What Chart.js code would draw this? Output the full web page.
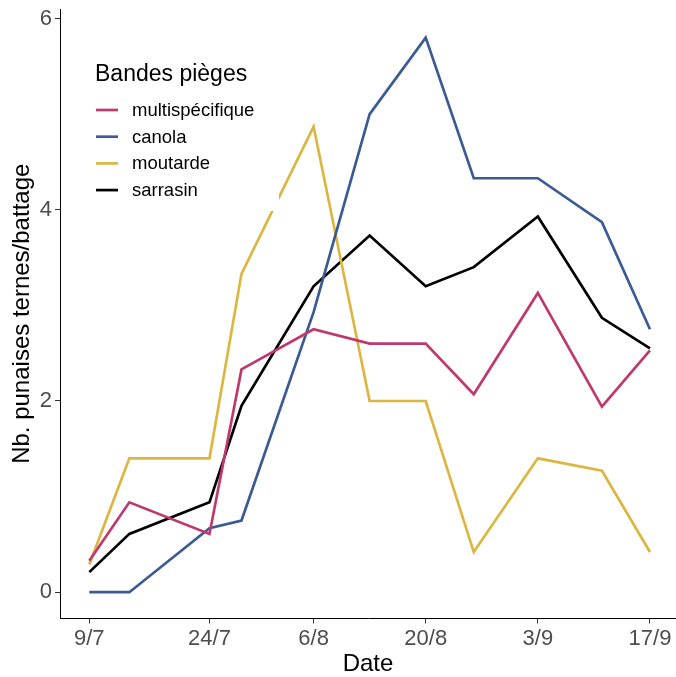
<!DOCTYPE html>
<html>
<head>
<meta charset="utf-8">
<script src="https://cdn.jsdelivr.net/npm/chart.js@4"></script>
<style>
  body { margin: 0; background: #fff; }
  #wrap { width: 676px; height: 677px; position: relative; }
</style>
</head>
<body>
<div id="wrap"><canvas id="chart"></canvas></div>
<script>
// Sampling dates (day/month) and mean counts per trap band
const dates = ['9/7', '14/7', '24/7', '28/7', '6/8', '13/8', '20/8', '26/8', '3/9', '11/9', '17/9'];
const multispecifique = [0.33, 0.94, 0.61, 2.33, 2.75, 2.6, 2.6, 2.07, 3.13, 1.94, 2.53];
const canola = [0, 0, 0.67, 0.75, 2.93, 5.0, 5.8, 4.33, 4.33, 3.87, 2.75];
const moutarde = [0.29, 1.4, 1.4, 3.33, 4.87, 2.0, 2.0, 0.42, 1.4, 1.27, 0.42];
const sarrasin = [0.21, 0.61, 0.94, 1.95, 3.2, 3.73, 3.2, 3.4, 3.93, 2.87, 2.55];
const xTickLabels = ['9/7', '24/7', '6/8', '20/8', '3/9', '17/9'];
const yTicks = [0, 2, 4, 6];

const seriesNames = ['multispécifique', 'canola', 'moutarde', 'sarrasin'];
const seriesColors = ['#BE3A6E', '#3B5B92', '#DBB741', '#000000'];
const seriesData = [multispecifique, canola, moutarde, sarrasin];

// days since first sample
function dayOf(s) {
    const [d, m] = s.split('/').map(Number);
    return Date.UTC(2020, m - 1, d) / 86400000;
}
const day0 = dayOf(dates[0]);
const xDays = dates.map(s => dayOf(s) - day0);
const tickDays = xTickLabels.map(s => dayOf(s) - day0);

const datasets = seriesNames.map((name, i) => ({
    label: name,
    data: seriesData[i].map((v, j) => ({ x: xDays[j], y: v })),
    borderColor: seriesColors[i],
    backgroundColor: seriesColors[i],
    borderWidth: 2.7,
    pointRadius: 0,
    tension: 0,
    fill: false
}));

// legend drawn inside the plot, on a white box over the lines
const insideLegend = {
    id: 'insideLegend',
    afterDatasetsDraw(chart) {
        const c = chart.ctx;
        c.save();
        c.fillStyle = '#fff';
        c.fillRect(84, 50, 195, 161);
        c.fillStyle = '#000';
        c.textBaseline = 'middle';
        c.textAlign = 'left';
        c.font = '23px "Liberation Sans", Arial, sans-serif';
        c.fillText('Bandes pièges', 95, 75);
        c.font = '18.5px "Liberation Sans", Arial, sans-serif';
        seriesNames.forEach((name, i) => {
            const y = 110 + i * 26.7;
            c.strokeStyle = seriesColors[i];
            c.lineWidth = 2.7;
            c.beginPath();
            c.moveTo(96, y);
            c.lineTo(118, y);
            c.stroke();
            c.fillStyle = '#000';
            c.fillText(name, 132, y + 1);
        });
        c.restore();
    }
};

new Chart(document.getElementById('chart'), {
    type: 'line',
    data: { datasets: datasets },
    options: {
        responsive: true,
        maintainAspectRatio: false,
        animation: false,
        layout: { padding: { top: 9, right: 0, left: 0, bottom: 0 } },
        plugins: { legend: { display: false }, tooltip: { enabled: false } },
        scales: {
            x: {
                type: 'linear',
                min: -3.66,
                max: 73.25,
                afterBuildTicks: scale => { scale.ticks = tickDays.map(v => ({ value: v })); },
                afterFit: scale => {
                    scale.height = 58.5;
                    scale.paddingLeft = 0;
                    scale.paddingRight = 0;
                },
                grid: { drawOnChartArea: false, drawTicks: true, tickLength: 5, color: '#333' },
                border: { display: true, color: '#000', width: 1 },
                ticks: {
                    color: '#4D4D4D',
                    padding: 2,
                    font: { size: 22, family: '"Liberation Sans", Arial, sans-serif' },
                    maxRotation: 0,
                    callback: v => xTickLabels[tickDays.indexOf(v)]
                },
                title: {
                    display: true,
                    text: 'Date',
                    color: '#000',
                    padding: { top: 0, bottom: -2 },
                    font: { size: 24, family: '"Liberation Sans", Arial, sans-serif' }
                }
            },
            y: {
                min: -0.275,
                max: 6.1,
                afterBuildTicks: scale => { scale.ticks = yTicks.map(v => ({ value: v })); },
                afterFit: scale => {
                    scale.width = 60;
                    scale.paddingTop = 0;
                    scale.paddingBottom = 0;
                },
                grid: { drawOnChartArea: false, drawTicks: true, tickLength: 5, color: '#333' },
                border: { display: true, color: '#000', width: 1 },
                ticks: {
                    color: '#4D4D4D',
                    padding: 3,
                    font: { size: 22, family: '"Liberation Sans", Arial, sans-serif' }
                },
                title: {
                    display: true,
                    text: 'Nb. punaises ternes/battage',
                    color: '#000',
                    padding: { top: 8, bottom: 0 },
                    font: { size: 24, family: '"Liberation Sans", Arial, sans-serif' }
                }
            }
        }
    },
    plugins: [insideLegend]
});
</script>
</body>
</html>
